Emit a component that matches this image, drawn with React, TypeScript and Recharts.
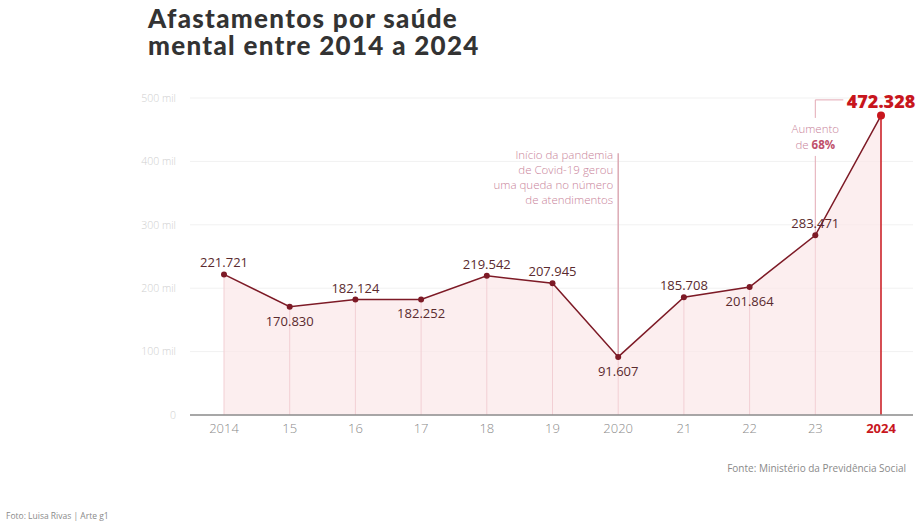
import React from "react";
import {
  ComposedChart,
  Area,
  Line,
  XAxis,
  YAxis,
  CartesianGrid,
  ReferenceLine,
  LabelList,
} from "recharts";

const categories = ["2014", "15", "16", "17", "18", "19", "2020", "21", "22", "23", "2024"];
const afastamentos = [221721, 170830, 182124, 182252, 219542, 207945, 91607, 185708, 201864, 283471, 472328];
const valueLabels = ["221.721", "170.830", "182.124", "182.252", "219.542", "207.945", "91.607", "185.708", "201.864", "283.471", "472.328"];
const labelAbove = [true, false, true, false, true, true, false, true, false, true, true];
const yTicks = [0, 100000, 200000, 300000, 400000, 500000];
const covidLineTop = 413000;
const bracketTop = 497000;

const data = categories.map((c, i) => ({ year: c, value: afastamentos[i], label: valueLabels[i] }));

const FONT = "'Open Sans', 'Noto Sans', sans-serif";
const LINE = "#7d1a26";
const RED = "#c8161d";

const XTick = (props: any) => {
  const { x, y, payload } = props;
  const last = payload.value === "2024";
  return (
    <text
      x={x}
      y={y + 10}
      textAnchor="middle"
      fontFamily={FONT}
      fontSize={13}
      fontWeight={last ? 700 : 300}
      fill={last ? RED : "#8a8a8a"}
    >
      {payload.value}
    </text>
  );
};

const ValueLabel = (props: any) => {
  const { x, y, index } = props;
  if (index === categories.length - 1) {
    return (
      <text x={x} y={y - 8} textAnchor="middle" fontFamily={FONT} fontSize={18} fontWeight={800} fill={RED}>
        {valueLabels[index]}
      </text>
    );
  }
  const above = labelAbove[index];
  return (
    <text
      x={x}
      y={above ? y - 7 : y + 19}
      textAnchor="middle"
      fontFamily={FONT}
      fontSize={13}
      fill="#5a2a2e"
    >
      {valueLabels[index]}
    </text>
  );
};

const CovidLabel = (props: any) => {
  const vb = props.viewBox || {};
  const x = vb.x;
  const top = vb.y;
  const lines = ["Início da pandemia", "de Covid-19 gerou", "uma queda no número", "de atendimentos"];
  return (
    <g>
      {lines.map((l, i) => (
        <text
          key={i}
          x={x - 5}
          y={top + 6 + i * 15}
          textAnchor="end"
          fontFamily={FONT}
          fontSize={11.5}
          fontWeight={300}
          fill="#c9849a"
        >
          {l}
        </text>
      ))}
    </g>
  );
};

const BracketLabel = (props: any) => {
  const vb = props.viewBox || {};
  const x = vb.x;
  const top = vb.y;
  return (
    <g>
      <line x1={x} y1={top} x2={x + 28} y2={top} stroke="#e3a9b4" strokeWidth={1} />
      <rect x={x - 28} y={top + 18} width={56} height={38} fill="#fff" />
      <text x={x} y={top + 33} textAnchor="middle" fontFamily={FONT} fontSize={11.5} fontWeight={300} fill="#c9849a">
        Aumento
      </text>
      <text x={x} y={top + 49} textAnchor="middle" fontFamily={FONT} fontSize={11.5} fill="#c9849a">
        <tspan fontWeight={300}>de </tspan>
        <tspan fontWeight={700} fill="#c0506a">68%</tspan>
      </text>
    </g>
  );
};

const titleStyle: React.CSSProperties = {
  position: "absolute",
  left: 148,
  fontFamily: "Lato, sans-serif",
  fontWeight: 900,
  fontSize: 26,
  lineHeight: "26px",
  color: "#333",
  letterSpacing: 1.3,
  whiteSpace: "nowrap",
};

export default function App() {
  return (
    <div style={{ position: "absolute", left: 0, top: 0, width: 919, height: 527, background: "#fff" }}>
      <div style={{ ...titleStyle, top: 5 }}>Afastamentos por saúde</div>
      <div style={{ ...titleStyle, top: 32 }}>mental entre 2014 a 2024</div>
      <ComposedChart
        width={919}
        height={527}
        data={data}
        margin={{ top: 98, right: 6, left: 0, bottom: 82 }}
      >
        <CartesianGrid horizontal vertical={false} stroke="#f1f1f1" />
        <XAxis
          dataKey="year"
          height={30}
          padding={{ left: 34, right: 32 }}
          tick={<XTick />}
          tickLine={false}
          axisLine={{ stroke: "#8c8c8c", strokeWidth: 1.5 }}
          interval={0}
        />
        <YAxis
          width={190}
          domain={[0, 500000]}
          ticks={yTicks}
          tickFormatter={(v: number) => (v === 0 ? "0" : `${v / 1000} mil`)}
          tick={{ fontFamily: FONT, fontSize: 10.5, fill: "#cfcfcf", fontWeight: 300 }}
          tickLine={false}
          axisLine={false}
          tickMargin={8}
        />
        <Area
          dataKey="value"
          type="linear"
          stroke="none"
          fill="#fbe7e8"
          fillOpacity={0.7}
          isAnimationActive={false}
        />
        {data.map((d, i) => (
          <ReferenceLine
            key={d.year}
            segment={[
              { x: d.year, y: 0 },
              { x: d.year, y: d.value },
            ]}
            stroke={i === data.length - 1 ? RED : "#f2cfd4"}
            strokeWidth={i === data.length - 1 ? 1.5 : 1}
          />
        ))}
        <ReferenceLine
          segment={[
            { x: "2020", y: afastamentos[6] },
            { x: "2020", y: covidLineTop },
          ]}
          stroke="#dcaab5"
          strokeWidth={1.5}
          label={<CovidLabel />}
        />
        <ReferenceLine
          segment={[
            { x: "23", y: afastamentos[9] },
            { x: "23", y: bracketTop },
          ]}
          stroke="#e3a9b4"
          strokeWidth={1}
          label={<BracketLabel />}
        />
        <Line
          dataKey="value"
          type="linear"
          stroke={LINE}
          strokeWidth={1.5}
          dot={(p: any) => (
            <circle
              key={p.index}
              cx={p.cx}
              cy={p.cy}
              r={p.index === data.length - 1 ? 4 : 3}
              fill={p.index === data.length - 1 ? RED : LINE}
              stroke="none"
            />
          )}
          isAnimationActive={false}
        >
          <LabelList dataKey="value" content={<ValueLabel />} />
        </Line>
      </ComposedChart>
      <div
        style={{
          position: "absolute",
          right: 13,
          top: 461,
          fontFamily: FONT,
          fontSize: 10,
          color: "#8a8a8a",
        }}
      >
        Fonte: Ministério da Previdência Social
      </div>
      <div
        style={{
          position: "absolute",
          left: 6,
          top: 510,
          fontFamily: FONT,
          fontSize: 8.5,
          color: "#8a8a8a",
        }}
      >
        Foto: Luisa Rivas | Arte g1
      </div>
    </div>
  );
}
